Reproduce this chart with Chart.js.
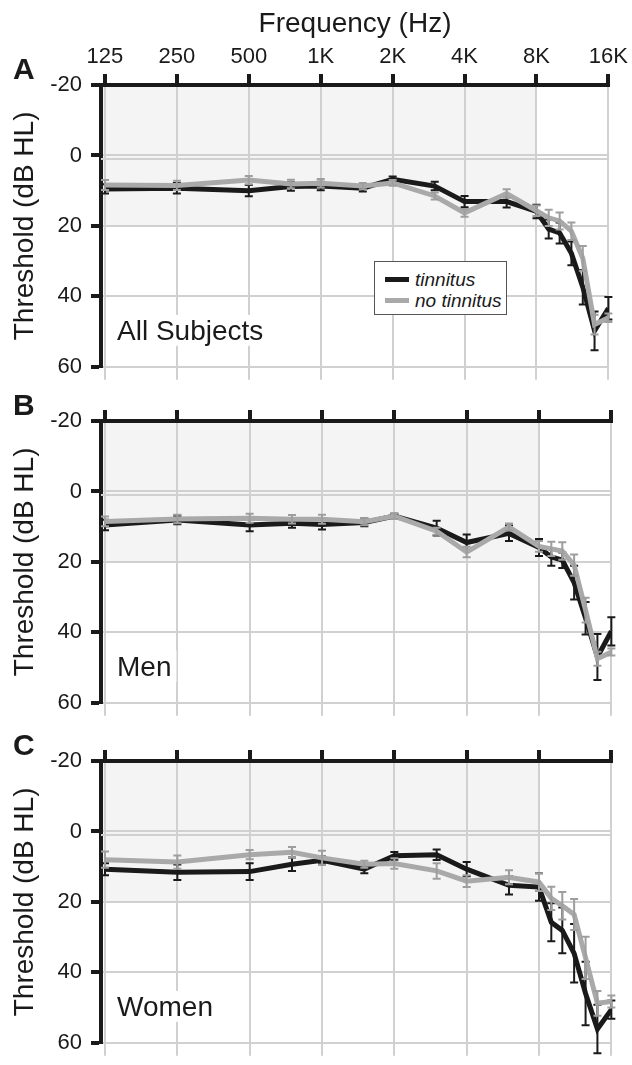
<!DOCTYPE html>
<html>
<head>
<meta charset="utf-8">
<title>Hearing thresholds: tinnitus vs no tinnitus</title>
<script src="https://cdn.jsdelivr.net/npm/chart.js@4.4.1/dist/chart.umd.min.js"></script>
<style>
    html, body { margin: 0; padding: 0; background: #fff; }
    #figure { position: relative; width: 632px; height: 1065px; overflow: hidden; font-family: "Liberation Sans", Arial, Helvetica, sans-serif; }
    #figure canvas { position: absolute; left: 0; }
    .legend { position: absolute; left: 374px; top: 261px; width: 131px; height: 52px; border: 1px solid #555; background: #fff; }
    .legend-row { position: absolute; left: 10px; height: 21px; line-height: 21px; font-size: 19px; font-style: italic; color: #1a1a1a; white-space: nowrap; }
    .legend-row span { display: inline-block; width: 24px; height: 5px; vertical-align: middle; margin-right: 6px; position: relative; top: -1px; }
</style>
</head>
<body>
<div id="figure">
    <canvas id="panel-a" width="632" height="389" style="top:0px"></canvas>
    <canvas id="panel-b" width="632" height="389" style="top:336px"></canvas>
    <canvas id="panel-c" width="632" height="389" style="top:676px"></canvas>
    <div class="legend">
        <div class="legend-row" style="top:7px"><span style="background:#1a1a1a"></span>tinnitus</div>
        <div class="legend-row" style="top:28px"><span style="background:#a9a9a9"></span>no tinnitus</div>
    </div>
</div>
<script>
// test frequencies (Hz)
const freqHz = [125, 250, 500, 750, 1000, 1500, 2000, 3000, 4000, 6000, 8000, 9000, 10000, 11200, 12500, 14000, 16000];

// axis ticks
const octaveHz = [125, 250, 500, 1000, 2000, 4000, 8000, 16000];
const octaveLabels = ['125', '250', '500', '1K', '2K', '4K', '8K', '16K'];
const dbTicks = [-20, 0, 20, 40, 60];

// mean threshold (dB HL) and SEM, all subjects
const allTin = [9.5, 9.3, 10.0, 8.8, 8.7, 9.3, 6.8, 8.7, 13.1, 13.1, 15.9, 20.9, 22.0, 27.8, 37.4, 49.8, 43.4];
const allTinErr = [1.3, 1.5, 1.6, 1.2, 1.2, 0.9, 0.8, 1.2, 1.6, 1.7, 1.9, 2.7, 3.0, 3.4, 4.9, 5.5, 3.2];
const allNoTin = [8.4, 8.5, 7.0, 8.1, 7.9, 8.7, 7.8, 11.5, 16.3, 10.8, 15.7, 17.7, 18.6, 21.5, 29.2, 48.0, 46.1];
const allNoTinErr = [1.4, 1.3, 1.2, 1.2, 1.2, 0.9, 0.8, 1.0, 1.1, 1.2, 1.5, 2.3, 2.4, 2.5, 3.5, 2.8, 1.2];

// men
const menTin = [9.5, 8.1, 9.5, 9.0, 9.4, 8.8, 7.0, 10.4, 14.5, 11.9, 15.9, 18.6, 19.5, 25.9, 36.0, 47.0, 39.7];
const menTinErr = [1.5, 1.2, 1.8, 1.3, 1.4, 1.1, 0.7, 2.1, 2.3, 2.2, 2.4, 2.5, 2.2, 4.8, 4.6, 6.5, 4.0];
const menNoTin = [8.5, 7.8, 7.6, 7.9, 7.9, 8.6, 7.0, 11.3, 17.2, 10.1, 15.6, 16.3, 16.9, 20.9, 33.7, 47.5, 45.6];
const menNoTinErr = [1.4, 1.2, 1.3, 1.2, 1.3, 1.0, 0.8, 1.0, 1.5, 1.0, 1.5, 2.0, 2.5, 3.0, 3.5, 2.0, 1.0];

// women
const womenTin = [10.7, 11.6, 11.4, 9.3, 8.2, 10.7, 6.9, 6.6, 10.7, 15.3, 15.8, 25.8, 28.1, 34.6, 46.0, 56.1, 50.6];
const womenTinErr = [1.7, 2.2, 2.4, 1.9, 1.1, 1.2, 1.1, 1.5, 2.0, 2.6, 3.9, 5.4, 6.5, 8.3, 9.0, 6.9, 2.6];
const womenNoTin = [8.0, 8.7, 6.6, 5.9, 7.5, 9.3, 9.1, 11.2, 14.1, 13.0, 14.4, 19.0, 21.1, 23.6, 35.9, 48.8, 48.3];
const womenNoTinErr = [2.3, 1.9, 1.3, 1.5, 2.0, 1.0, 1.5, 2.2, 1.7, 2.0, 2.5, 3.3, 3.9, 4.4, 6.0, 3.5, 1.7];

// normal-hearing band (shaded)
const bandDb = [-20, 20];
const bandMaxHz = 8000;

const FONT = '"Liberation Sans", Arial, Helvetica, sans-serif';
const INK = '#1a1a1a';
const GREY = '#a9a9a9';
const GRID = '#d0d0d0';

// shading, extra grid bits, error bars and panel labels
const audiogramDecor = {
    id: 'audiogramDecor',
    beforeDraw(chart) {
        const { ctx, chartArea: a, scales: { x, y } } = chart;
        const yTop = y.getPixelForValue(bandDb[0]);
        const yBot = y.getPixelForValue(bandDb[1]);
        ctx.save();
        ctx.fillStyle = '#f4f4f4';
        ctx.fillRect(a.left, yTop, x.getPixelForValue(bandMaxHz) - a.left, yBot - yTop);
        ctx.restore();
    },
    beforeDatasetsDraw(chart) {
        const { ctx, chartArea: a, scales: { x, y } } = chart;
        ctx.save();
        ctx.strokeStyle = GRID;
        ctx.lineWidth = 2;
        ctx.beginPath();
        // second line just under 0 dB
        const y1 = Math.round(y.getPixelForValue(1));
        ctx.moveTo(a.left, y1);
        ctx.lineTo(a.right, y1);
        // vertical grid runs a little past the bottom
        octaveHz.forEach(f => {
            const px = Math.round(x.getPixelForValue(f));
            ctx.moveTo(px, a.bottom);
            ctx.lineTo(px, a.bottom + 13);
        });
        ctx.stroke();
        ctx.restore();
    },
    afterDatasetDraw(chart, args) {
        const ds = chart.data.datasets[args.index];
        if (!ds.errors) return;
        const { ctx, scales: { y } } = chart;
        ctx.save();
        ctx.strokeStyle = ds.errorColor;
        ctx.lineWidth = 2;
        ctx.beginPath();
        args.meta.data.forEach((pt, i) => {
            const v = ds.data[i].y;
            const top = y.getPixelForValue(v - ds.errors[i]);
            const bot = y.getPixelForValue(v + ds.errors[i]);
            ctx.moveTo(pt.x, top);
            ctx.lineTo(pt.x, bot);
            ctx.moveTo(pt.x - 4, top);
            ctx.lineTo(pt.x + 4, top);
            ctx.moveTo(pt.x - 4, bot);
            ctx.lineTo(pt.x + 4, bot);
        });
        ctx.stroke();
        ctx.restore();
    },
    afterDraw(chart, args, opts) {
        const { ctx, chartArea: a } = chart;
        ctx.save();
        ctx.fillStyle = INK;
        ctx.textBaseline = 'alphabetic';
        ctx.font = `bold 30px ${FONT}`;
        ctx.fillText(opts.letter, 13, a.top - 6);

        ctx.font = `28px ${FONT}`;
        const w = ctx.measureText(opts.group).width;
        const gx = a.left + 16;
        const gy = a.bottom - 27;
        ctx.fillStyle = '#fff';
        ctx.fillRect(gx - 5, gy - 25, w + 10, 31);
        ctx.fillStyle = INK;
        ctx.fillText(opts.group, gx, gy);
        ctx.restore();
    }
};

function series(values) {
    return freqHz.map((f, i) => ({ x: f, y: values[i] }));
}

function makePanel(canvasId, letter, group, tin, tinErr, noTin, noTinErr, showFreq) {
    const tickFont = { family: FONT, size: 22 };
    const titleFont = { family: FONT, size: 28 };
    return new Chart(document.getElementById(canvasId), {
        type: 'line',
        data: {
            datasets: [
                { label: 'tinnitus', data: series(tin), errors: tinErr, errorColor: INK, borderColor: INK, order: 1 },
                { label: 'no tinnitus', data: series(noTin), errors: noTinErr, errorColor: '#9e9e9e', borderColor: GREY, order: 0 }
            ]
        },
        options: {
            responsive: false,
            animation: false,
            events: [],
            layout: { padding: { top: 0, right: 20, bottom: 13.5, left: 0 } },
            elements: {
                line: { borderWidth: 5, tension: 0, fill: false },
                point: { radius: 0 }
            },
            plugins: {
                legend: { display: false },
                tooltip: { enabled: false },
                audiogramDecor: { letter, group }
            },
            scales: {
                x: {
                    type: 'logarithmic',
                    position: 'top',
                    min: 120.3,
                    max: 16100,
                    afterBuildTicks: s => { s.ticks = octaveHz.map(v => ({ value: v })); },
                    afterFit: s => { s.height = 85; },
                    grid: { color: GRID, lineWidth: 2, tickColor: INK, tickWidth: 4, tickLength: 11 },
                    border: { color: INK, width: 4 },
                    ticks: {
                        display: showFreq,
                        autoSkip: false,
                        maxRotation: 0,
                        padding: 4,
                        color: INK,
                        font: tickFont,
                        callback: (v, i) => octaveLabels[i]
                    },
                    title: { display: showFreq, text: 'Frequency (Hz)', color: INK, font: titleFont, padding: { top: 7, bottom: 0 } }
                },
                y: {
                    reverse: true,
                    min: dbTicks[0],
                    max: dbTicks[dbTicks.length - 1],
                    afterBuildTicks: s => { s.ticks = dbTicks.map(v => ({ value: v })); },
                    afterFit: s => { s.width = 101; },
                    grid: { color: GRID, lineWidth: 2, tickColor: INK, tickWidth: 4, tickLength: 10 },
                    border: { color: INK, width: 4 },
                    ticks: { padding: 9, color: INK, font: tickFont },
                    title: { display: true, text: 'Threshold (dB HL)', color: INK, font: titleFont, padding: { top: 8, bottom: 0 } }
                }
            }
        },
        plugins: [audiogramDecor]
    });
}

document.addEventListener('DOMContentLoaded', function() {
    makePanel('panel-a', 'A', 'All Subjects', allTin, allTinErr, allNoTin, allNoTinErr, true);
    makePanel('panel-b', 'B', 'Men', menTin, menTinErr, menNoTin, menNoTinErr, false);
    makePanel('panel-c', 'C', 'Women', womenTin, womenTinErr, womenNoTin, womenNoTinErr, false);
});
</script>
</body>
</html>
